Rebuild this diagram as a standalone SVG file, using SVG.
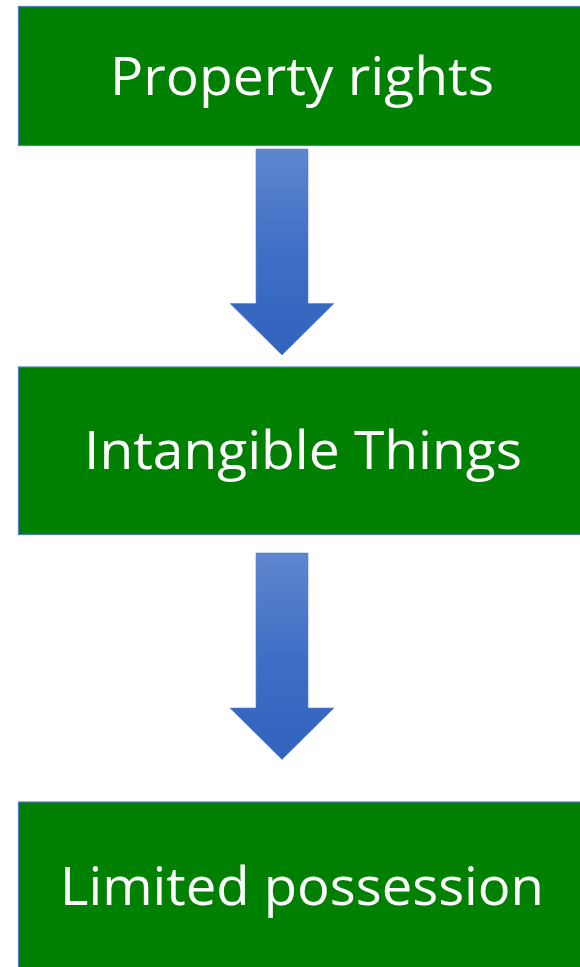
<svg xmlns="http://www.w3.org/2000/svg" width="580" height="967" viewBox="0 0 580 967">
<style>
.box{fill:#008000;stroke:#4f7ac9;stroke-width:1.2}
.lbl{fill:#ffffff;font-family:"Open Sans","Liberation Sans",sans-serif;font-size:53px;text-anchor:middle}
.arr{fill:url(#g);stroke:#5a82cc;stroke-width:0.6}
</style>
<defs>
<linearGradient id="g" x1="0" y1="0" x2="0" y2="1">
<stop offset="0" stop-color="#5f86cf"/>
<stop offset="0.5" stop-color="#3e6fc6"/>
<stop offset="1" stop-color="#3263bd"/>
</linearGradient>
</defs>
<g id="node-property">
<rect class="box" x="18.5" y="6.5" width="580" height="139"/>
<text class="lbl" x="302" y="95" textLength="384" lengthAdjust="spacingAndGlyphs">Property rights</text>
</g>
<g id="node-intangible">
<rect class="box" x="18.5" y="367" width="580" height="167.5"/>
<text class="lbl" x="303" y="468.5" textLength="438" lengthAdjust="spacingAndGlyphs">Intangible Things</text>
</g>
<g id="node-limited">
<rect class="box" x="18.5" y="802" width="580" height="180"/>
<text class="lbl" x="302" y="905" textLength="484" lengthAdjust="spacingAndGlyphs">Limited possession</text>
</g>
<g id="connectors">
<path class="arr" d="M256,149 H308 V303.5 H334 L282,355 L230,303.5 H256 Z"/>
<path class="arr" d="M256,553 H308 V708 H334 L282,759.5 L230,708 H256 Z"/>
</g>
</svg>
